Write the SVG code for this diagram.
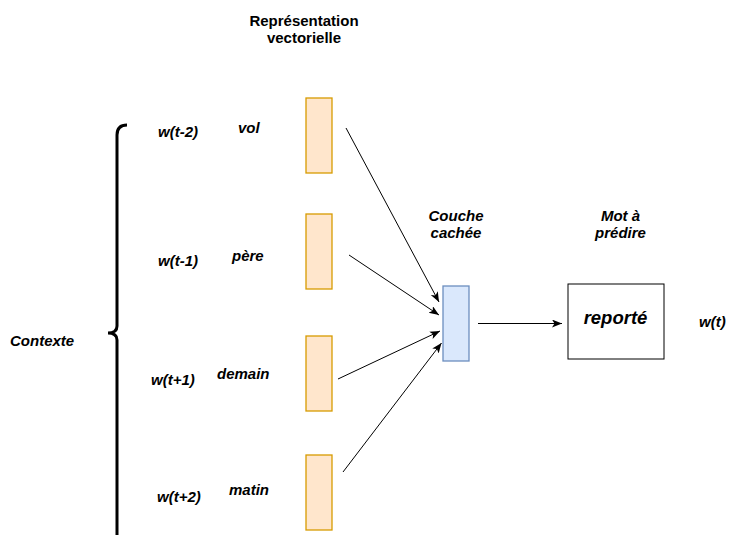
<svg xmlns="http://www.w3.org/2000/svg" width="729" height="535" viewBox="0 0 729 535">
<style>
text{font-family:"Liberation Sans",Arial,sans-serif;font-weight:bold;fill:#000}
.it{font-style:italic;font-size:15px}
.emb{fill:#ffe6cc;stroke:#d79b00;stroke-width:1.3}
.hid{fill:#dae8fc;stroke:#6c8ebf;stroke-width:1.3}
.edge{stroke:#000;stroke-width:1;fill:none;marker-end:url(#arr)}
</style>
<defs>
<marker id="arr" markerUnits="userSpaceOnUse" markerWidth="12" markerHeight="10" refX="10" refY="4" orient="auto">
<path d="M0,0 L10,4 L0,8 L2.5,4 Z" fill="#000"/>
</marker>
</defs>
<rect width="729" height="535" fill="#fff"/>
<g id="title">
<text x="304" y="26" font-size="15" text-anchor="middle">Représentation</text>
<text x="304" y="42.5" font-size="15" text-anchor="middle">vectorielle</text>
</g>
<g id="brace">
<path d="M127,125 Q117,125 117,135 L117,326 Q117,333 108,333 Q117,333 117,340 L117,545" fill="none" stroke="#000" stroke-width="3"/>
<text class="it" x="10" y="346">Contexte</text>
</g>
<g id="labels">
<text class="it" x="158" y="137">w(t-2)</text>
<text class="it" x="238" y="133">vol</text>
<text class="it" x="158" y="266">w(t-1)</text>
<text class="it" x="232" y="261">père</text>
<text class="it" x="151" y="385">w(t+1)</text>
<text class="it" x="217" y="379">demain</text>
<text class="it" x="157" y="502">w(t+2)</text>
<text class="it" x="229" y="495">matin</text>
</g>
<g id="emb1"><rect class="emb" x="306" y="98" width="26" height="75"/></g>
<g id="emb2"><rect class="emb" x="306" y="214" width="26" height="75"/></g>
<g id="emb3"><rect class="emb" x="306" y="336" width="26" height="75"/></g>
<g id="emb4"><rect class="emb" x="306" y="455" width="26" height="75"/></g>
<g id="hidden">
<rect class="hid" x="443" y="286" width="26" height="75"/>
<text class="it" x="456" y="221" text-anchor="middle">Couche</text>
<text class="it" x="456" y="237.5" text-anchor="middle">cachée</text>
</g>
<g id="output">
<rect x="568" y="284" width="96" height="75" fill="#fff" stroke="#000" stroke-width="1"/>
<text x="615.5" y="324" font-size="18.5" font-style="italic" text-anchor="middle">reporté</text>
<text class="it" x="620.5" y="221" text-anchor="middle">Mot à</text>
<text class="it" x="620.5" y="237.5" text-anchor="middle">prédire</text>
<text class="it" x="699" y="327">w(t)</text>
</g>
<g id="connectors">
<line class="edge" x1="346" y1="128" x2="439" y2="302"/>
<line class="edge" x1="349" y1="255" x2="439" y2="315"/>
<line class="edge" x1="338" y1="379" x2="440" y2="331"/>
<line class="edge" x1="343" y1="472" x2="441.5" y2="343"/>
<line class="edge" x1="478" y1="323.5" x2="562" y2="323.5"/>
</g>
</svg>
